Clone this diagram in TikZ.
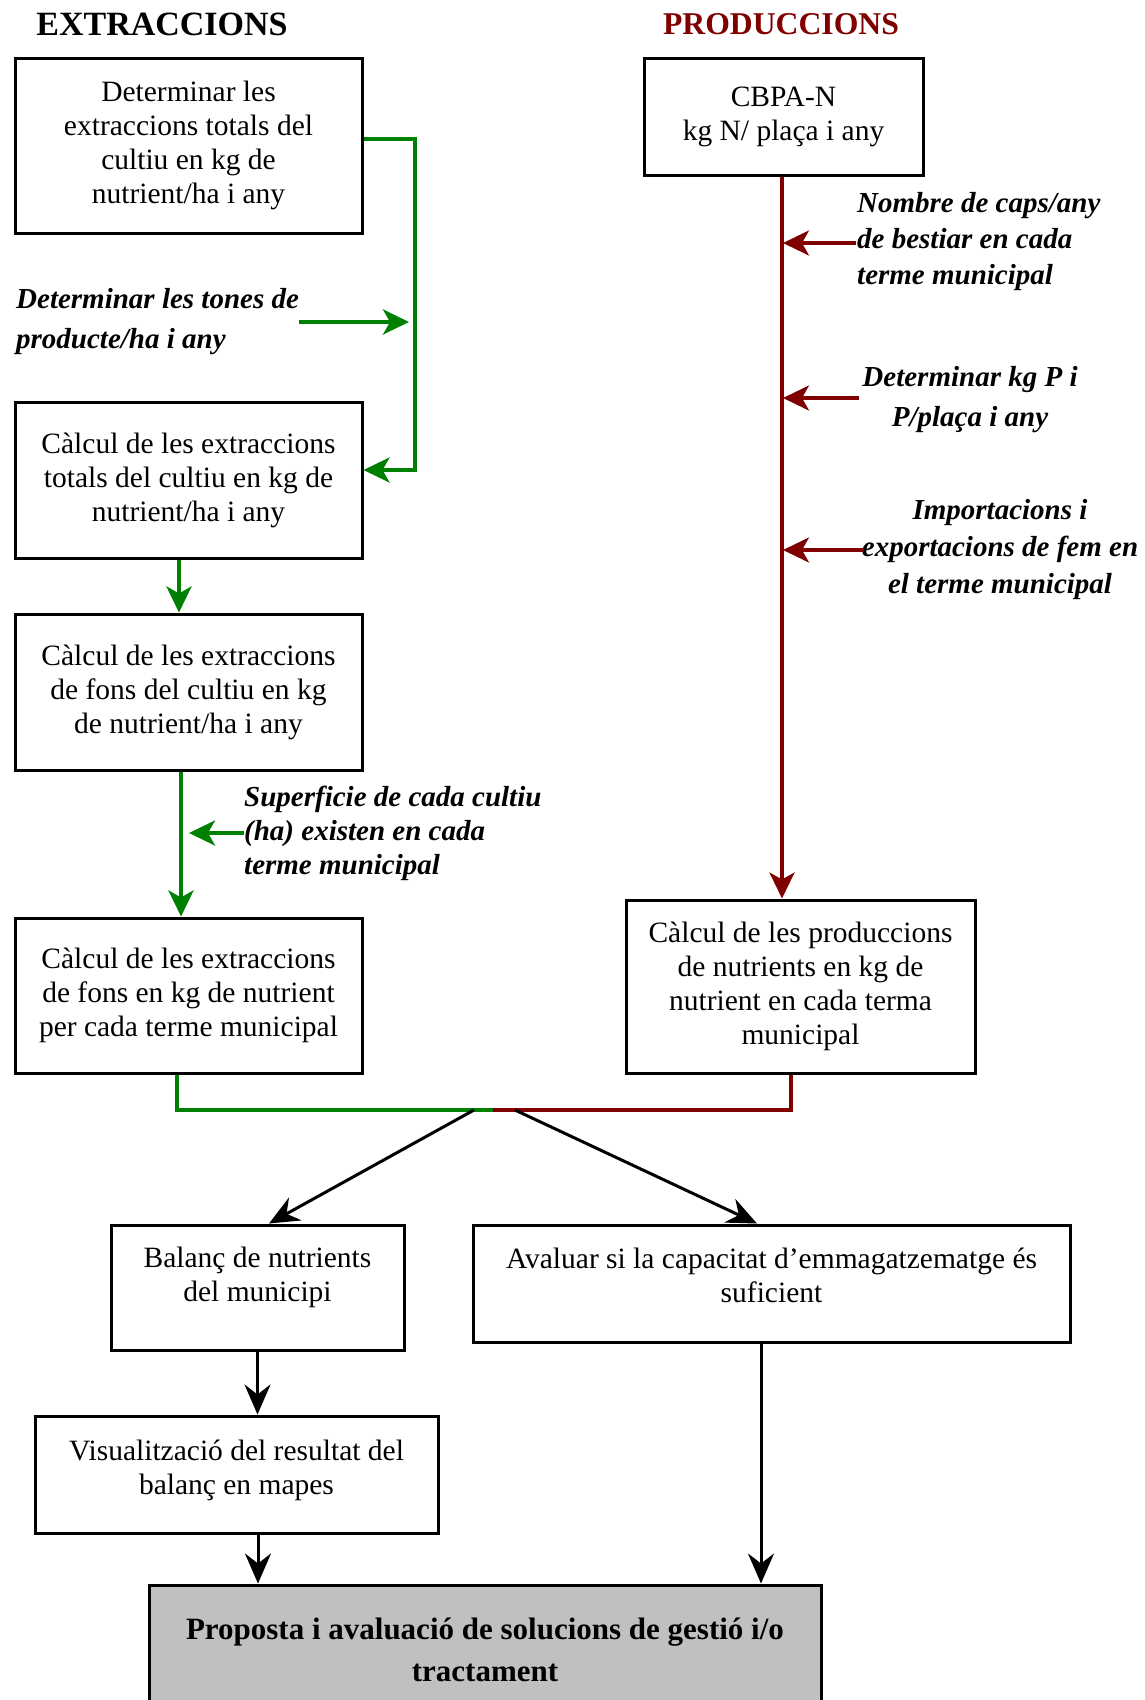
\documentclass[tikz,border=0pt]{standalone}
\usepackage{fontspec}
\setmainfont{Liberation Serif}
\usetikzlibrary{arrows.meta,calc}
\definecolor{grn}{RGB}{0,128,0}
\definecolor{dred}{RGB}{128,0,0}
\definecolor{gbox}{RGB}{192,192,192}
\begin{document}
\begin{tikzpicture}[x=1pt,y=-1pt,
  box/.style={draw=black, line width=3pt, align=center, inner sep=0pt, font=\fontsize{29.5}{34}\selectfont},
  txt/.style={align=center, inner sep=0pt, font=\fontsize{29.5}{34}\selectfont},
  lbl/.style={inner sep=0pt, font=\fontsize{29}{#1}\selectfont\bfseries\itshape},
  ctip/.style={-{Stealth[length=26pt,width=25pt,inset=7pt]}},
  ktip/.style={-{Stealth[length=30pt,width=26pt,inset=10pt]}},
  gline/.style={draw=grn, line width=4pt, line join=miter},
  rline/.style={draw=dred, line width=3.5pt, line join=miter},
  kline/.style={draw=black, line width=3pt},
]
\useasboundingbox (0,0) rectangle (1145,1700);

% titles
\node[inner sep=0pt, font=\fontsize{34}{40}\selectfont\bfseries] (tE) at (162,24) {EXTRACCIONS};
\node[inner sep=0pt, font=\fontsize{31.7}{36}\selectfont\bfseries, text=dred] (tP) at (781,24) {PRODUCCIONS};

% left column boxes
\node[box, minimum width=347pt, minimum height=175pt] (b1) at (188.5,145.5)
  {Determinar les\\extraccions totals del\\cultiu en kg de\\nutrient/ha i any};
\node[box, minimum width=347pt, minimum height=156pt] (b2) at (188.5,480)
  {Càlcul de les extraccions\\totals del cultiu en kg de\\nutrient/ha i any};
\node[box, minimum width=347pt, minimum height=156pt] (b3) at (188.5,692)
  {Càlcul de les extraccions\\de fons del cultiu en kg\\de nutrient/ha i any};
\node[box, minimum width=347pt, minimum height=155pt] (b4) at (188.5,995.5)
  {Càlcul de les extraccions\\de fons en kg de nutrient\\per cada terme municipal};

% right column boxes
\node[box, minimum width=279pt, minimum height=117pt] (p1) at (783.5,116.5)
  {CBPA-N\\kg N/ plaça i any};
\node[box, minimum width=349pt, minimum height=173pt] (p2) at (800.5,986.5)
  {Càlcul de les produccions\\de nutrients en kg de\\nutrient en cada terma\\municipal};

% lower boxes
\node[box, minimum width=293pt, minimum height=125pt] (bal) at (257.5,1287.5) {};
\node[txt] (balT) at (257.5,1277) {Balanç de nutrients\\del municipi};
\node[box, minimum width=597pt, minimum height=117pt] (aval) at (771.5,1283.5) {};
\node[txt] (avalT) at (771.5,1275) {Avaluar si la capacitat d’emmagatzematge és\\suficient};
\node[box, minimum width=403pt, minimum height=117pt] (vis) at (236.5,1474.5) {};
\node[txt] (visT) at (236.5,1470) {Visualització del resultat del\\balanç en mapes};
\node[box, fill=gbox, minimum width=672pt, minimum height=130pt, font=\fontsize{31}{42}\selectfont\bfseries] (fin) at (485,1650)
  {Proposta i avaluació de solucions de gestió i/o\\tractament};

% italic labels
\node[lbl=40, align=left, anchor=west] (tones) at (16,322)
  {Determinar les tones de\\producte/ha i any};
\node[lbl=34, align=left, anchor=west] (sup) at (244,833)
  {Superficie de cada cultiu\\(ha) existen en cada\\terme municipal};
\node[lbl=36, align=left, anchor=west] (nom) at (857,242)
  {Nombre de caps/any\\de bestiar en cada\\terme municipal};
\node[lbl=40, align=center] (dkg) at (970,400)
  {Determinar kg P i\\P/plaça i any};
\node[lbl=37, align=center] (imp) at (1000,550)
  {Importacions i\\exportacions de fem en\\el terme municipal};

% green connectors
\coordinate (gA) at (415,139);
\coordinate (gB) at (415,470);
\draw[gline, ctip] (b1.east |- gA) -- (gA) -- (gB) -- (b2.east |- gB);
\draw[gline, ctip, shorten >=6pt] (tones.east) -- (tones.east -| gA);
\coordinate (gx1) at (179,0);
\draw[gline, ctip] (b2.south -| gx1) -- (b3.north -| gx1);
\coordinate (gx2) at (181,0);
\draw[gline, ctip] (b3.south -| gx2) -- (b4.north -| gx2);
\draw[gline, ctip, shorten >=8pt] (sup.west) -- (sup.west -| gx2);

% junction
\coordinate (jg) at (177,1110);
\coordinate (jm) at (493,1110);
\coordinate (jr) at (791,1110);
\draw[gline] (b4.south -| jg) -- (jg) -- (jm);
\draw[rline] (p2.south -| jr) -- (jr) -- (jm);

% red connectors
\coordinate (rv) at (782,0);
\draw[rline, ctip] (p1.south -| rv) -- (p2.north -| rv);
\coordinate (r1) at (856,243);
\coordinate (r2) at (859,398);
\coordinate (r3) at (864,550);
\draw[rline, ctip, shorten >=1pt] (r1) -- (r1 -| rv);
\draw[rline, ctip, shorten >=1pt] (r2) -- (r2 -| rv);
\draw[rline, ctip, shorten >=1pt] (r3) -- (r3 -| rv);

% black connectors
\coordinate (k1) at (474,1110);
\coordinate (k2) at (515,1110);
\coordinate (k1e) at (269,0);
\coordinate (k2e) at (757,0);
\draw[kline, ktip] (k1) -- (bal.north -| k1e);
\draw[kline, ktip] (k2) -- (aval.north -| k2e);
\draw[kline, ktip] (bal.south) -- (vis.north -| bal.south);
\coordinate (vx) at (258,0);
\draw[kline, ktip] (vis.south -| vx) -- (fin.north -| vx);
\coordinate (ax) at (761,0);
\draw[kline, ktip] (aval.south -| ax) -- (fin.north -| ax);
\end{tikzpicture}
\end{document}
